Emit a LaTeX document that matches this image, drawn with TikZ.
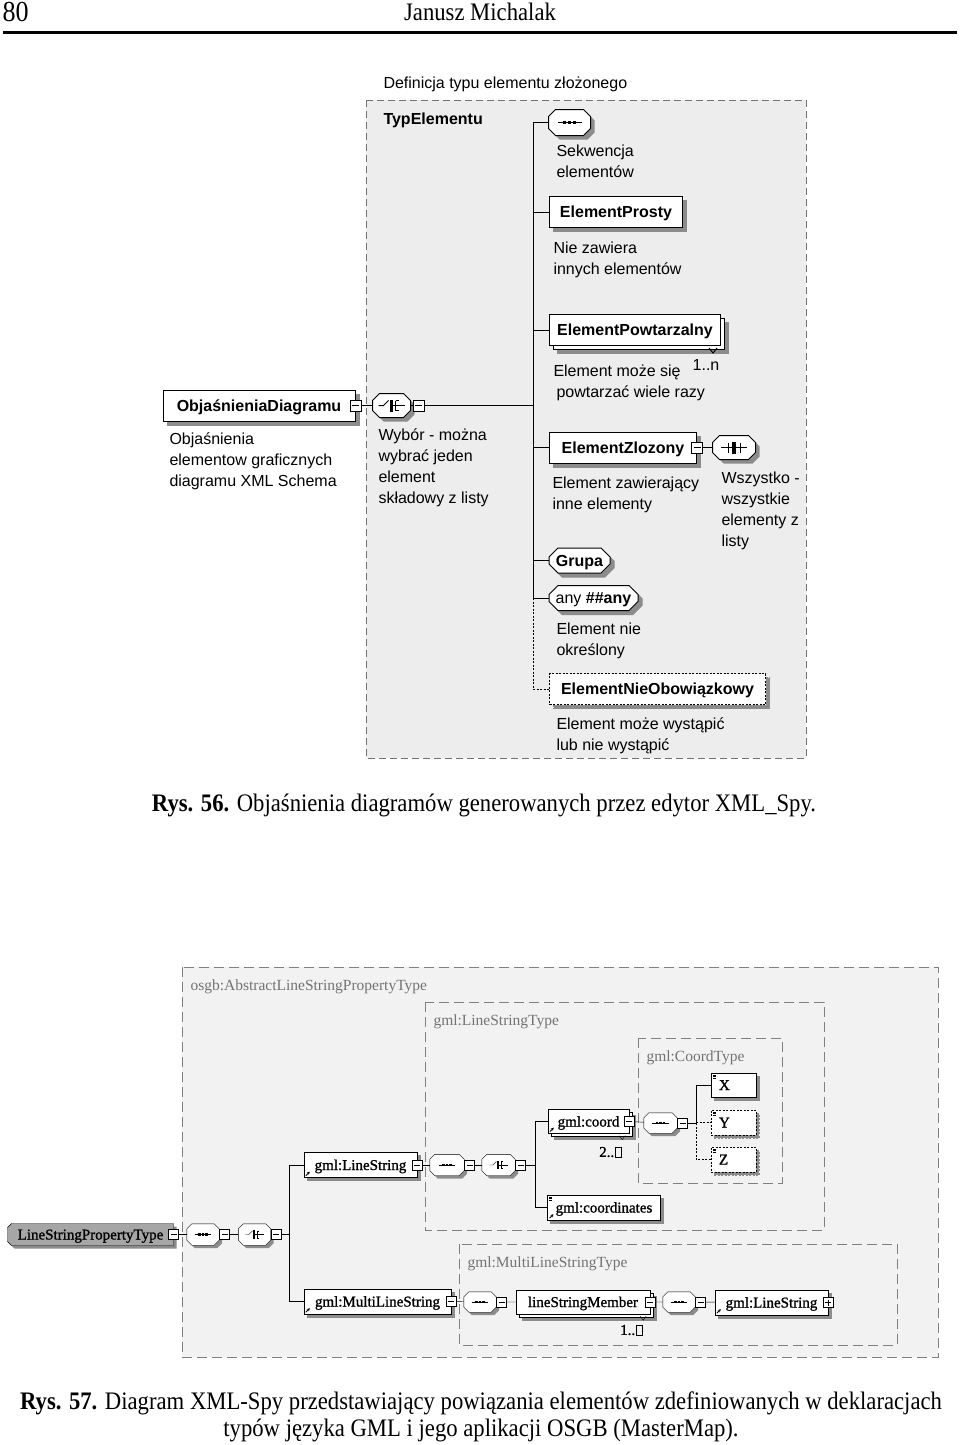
\documentclass[tikz,border=0pt]{standalone}
\usepackage{fontspec}
\usepackage{tikz}
\usetikzlibrary{positioning,shapes.misc,shadows,arrows.meta}
\pgfdeclarelayer{bg}
\pgfsetlayers{bg,main}
\newfontfamily\arialf{Liberation Sans}
\newfontfamily\timesf[FakeStretch=0.9]{Liberation Serif}
\newfontfamily\gmlf{Liberation Serif}
\newfontfamily\gmlb[FakeBold=1.2]{Liberation Serif}
\newcommand{\dsans}{\arialf\fontsize{16}{21}\selectfont}
\newcommand{\dgml}{\gmlb\fontsize{15}{17}\selectfont}
\newcommand{\dcap}{\timesf\fontsize{25.2}{27}\selectfont}
% octagon of a compositor round node #1, chamfer #2, shadow offset #3
\newcommand{\compobox}[3]{%
  \fill[black!45, transform canvas={xshift=#3pt, yshift=-#3pt}]
    ([xshift=#2pt]#1.north west) -- ([xshift=-#2pt]#1.north east) -- ([yshift=-#2pt]#1.north east)
    -- ([yshift=#2pt]#1.south east) -- ([xshift=-#2pt]#1.south east) -- ([xshift=#2pt]#1.south west)
    -- ([yshift=#2pt]#1.south west) -- ([yshift=-#2pt]#1.north west) -- cycle;
  \filldraw[fill=white]
    ([xshift=#2pt]#1.north west) -- ([xshift=-#2pt]#1.north east) -- ([yshift=-#2pt]#1.north east)
    -- ([yshift=#2pt]#1.south east) -- ([xshift=-#2pt]#1.south east) -- ([xshift=#2pt]#1.south west)
    -- ([yshift=#2pt]#1.south west) -- ([yshift=-#2pt]#1.north west) -- cycle;}

\tikzset{
  shad/.style={drop shadow={shadow xshift=4pt,shadow yshift=-4pt,fill=black!45,draw=black!45,opacity=1}},
  gshad/.style={drop shadow={shadow xshift=3pt,shadow yshift=-3pt,fill=black!45,draw=black!45,opacity=1}},
  elbase/.style={draw, fill=white, font=\dsans\bfseries, minimum height=31pt, inner sep=0pt,
    text height=11.5pt, text depth=0pt},
  elbox/.style={elbase, shad},
  elstack/.style={elbase,
    drop shadow={shadow xshift=8pt,shadow yshift=-8pt,fill=black!45,draw=black!45,opacity=1},
    copy shadow={shadow xshift=4pt,shadow yshift=-4pt}},
  compo/.style={minimum width=40pt, minimum height=24pt, inner sep=0pt},
  gcompo/.style={compo, minimum width=32pt, minimum height=21pt},
  grp/.style={chamfered rectangle, chamfered rectangle xsep=4pt, chamfered rectangle ysep=5pt,
    draw, fill=white, font=\dsans\bfseries, minimum height=25pt, inner sep=0pt,
    text height=11.5pt, text depth=0pt, shad},
  mbox/.style={draw, fill=white, minimum size=11pt, inner sep=0pt, line width=0.8pt,
    path picture={\draw ([xshift=2pt]path picture bounding box.west) -- ([xshift=-2pt]path picture bounding box.east);}},
  gmbox/.style={mbox, minimum size=10pt},
  gpbox/.style={gmbox, path picture={
    \draw ([xshift=2pt]path picture bounding box.west) -- ([xshift=-2pt]path picture bounding box.east);
    \draw ([yshift=-2pt]path picture bounding box.north) -- ([yshift=2pt]path picture bounding box.south);}},
  note/.style={font=\dsans, inner sep=0pt, align=left},
  gnote/.style={font=\gmlf\fontsize{15.5}{17}\selectfont, text=black!55, inner sep=0pt, anchor=west},
  gnum/.style={font=\dgml, inner sep=0pt},
  gelbase/.style={draw, fill=white, font=\dgml, minimum height=25pt, inner xsep=8pt, inner ysep=0pt,
    text height=10pt, text depth=0pt, align=left},
  gelbox/.style={gelbase, gshad},
  gelstack/.style={gelbase,
    drop shadow={shadow xshift=6pt,shadow yshift=-6pt,fill=black!45,draw=black!45,opacity=1},
    copy shadow={shadow xshift=3pt,shadow yshift=-3pt}},
  area1/.style={fill=gray!14, draw=black!55, dash pattern=on 7pt off 4pt},
  area2/.style={fill=gray!10, draw=black!50, dash pattern=on 10pt off 5pt},
  area3/.style={draw=black!50, dash pattern=on 10pt off 5pt},
  dotline/.style={dash pattern=on 2pt off 1.5pt},
  seqicon/.pic={\draw (-12,0) -- (12,0);
    \foreach \d in {-5,0,5} \fill (\d-1.5,-1.5) rectangle ++(3,3);},
  choiceicon/.pic={\draw (-13,0) -- (-8,0) -- (-3,-5);
    \fill (-2,-6) rectangle (1,6);
    \draw (4,-5) -- (4,5) (4,-5) -- (7,-5) (4,5) -- (7,5) (1,0) -- (13,0);},
  allicon/.pic={\draw (-13,0) -- (13,0) (-6,-5) -- (-6,5) (6,-5) -- (6,5);
    \fill (-2,-6) rectangle (2,6);},
  refmark/.pic={\draw[line width=0.8pt,-{Stealth[length=3pt,width=3pt]}] (2,-2) -- (6,-6);},
  simplemark/.pic={\foreach \k in {2,3.5,5} \draw[line width=0.6pt] (2,\k) -- (5,\k);},
}

\begin{document}
\begin{tikzpicture}[x=1pt,y=-1pt,line width=1pt]
\useasboundingbox (0,0) rectangle (960,1445);
% page head
\node[font=\timesf\fontsize{29}{30}\selectfont, anchor=west, inner sep=0pt] (pnum) at (2,12) {80};
\node[font=\dcap, inner sep=0pt] (author) at (480,12) {Janusz Michalak};
\draw[line width=3pt] (3,33) -- (957,33);

% Rys. 56: legend of the symbols
\draw[area1] (366,100) rectangle (806,758);
\node[note, anchor=west] (deftitle) at (383,84) {Definicja typu elementu złożonego};
\node[note, anchor=west, font=\dsans\bfseries] (typel) at (383,120) {TypElementu};
\coordinate (tr1) at (533,0);
\node[compo, minimum width=41pt, minimum height=25pt] (seq1) at (569.5,122.5) {};
\compobox{seq1}{7}{4}
\pic at (seq1) {seqicon};
\node[note, anchor=north west] (seq1txt) at (556,144) {Sekwencja\\elementów};
\node[elbox, anchor=west, minimum width=133pt] (prosty) at (549,212) {ElementProsty};
\node[note, anchor=north west] (prostytxt) at (553,241) {Nie zawiera\\innych elementów};
\node[elstack, anchor=west, minimum width=171pt] (powt) at (549,330) {ElementPowtarzalny};
\draw ([xshift=-8pt]powt.south east) ++(-4,2) -- ++(4,5) -- ++(4,-5);
\node[note] (powtn) at (706,365) {1..n};
\node[note, anchor=north west] (powttxt) at (553,364) {Element może się\\\hspace*{3pt}powtarzać wiele razy};
\node[elbox, minimum width=192pt] (objd) at (259,405.5) {ObjaśnieniaDiagramu};
\node[mbox] (objdm) at (objd.east) {};
\node[compo, minimum width=37pt, minimum height=23pt] (ch) at (391.5,405.5) {};
\compobox{ch}{7}{4}
\pic at (ch) {choiceicon};
\node[mbox, right=2pt of ch] (chm) {};
\draw (objdm) -- (ch) (ch) -- (chm) (chm.east) -- (chm.east -| tr1);
\node[note, anchor=north west] (objdtxt) at (169,432) {Objaśnienia\\elementow graficznych\\diagramu XML Schema};
\node[note, anchor=north west] (chtxt) at (378,428) {Wybór - można\\wybrać jeden\\element\\składowy z listy};
\node[elbox, anchor=west, minimum width=147pt] (zloz) at (549,447.5) {ElementZlozony};
\node[mbox] (zlozm) at (zloz.east) {};
\node[compo, minimum width=42pt, minimum height=23pt] (all) at (734,447.5) {};
\compobox{all}{7}{4}
\pic at (all) {allicon};
\draw (zlozm) -- (all);
\node[note, anchor=north west] (zloztxt) at (552,476) {Element zawierający\\inne elementy};
\node[note, anchor=north west] (alltxt) at (721,471) {Wszystko -\\wszystkie\\elementy z\\listy};
\node[grp, minimum width=61pt] (grupa) at (579.5,560.5) {Grupa};
\node[grp, minimum width=89pt, font=\dsans] (anyel) at (593.5,598) {any \textbf{\#\#any}};
\node[note, anchor=north west] (anytxt) at (556,622) {Element nie\\określony};
\node[elbox, dotline, anchor=west, minimum width=216pt] (nieob) at (549,689) {ElementNieObowiązkowy};
\node[note, anchor=north west] (nieobtxt) at (556,717) {Element może wystąpić\\lub nie wystąpić};
% trunk of the sequence
\draw (seq1.west) -- (seq1.west -| tr1) -- (anyel.west -| tr1) -- (anyel.west);
\foreach \n in {prosty,powt,zloz,grupa}
  \draw (\n.west) -- (\n.west -| tr1);
\draw[dotline] (anyel.west -| tr1) -- (nieob.west -| tr1) -- (nieob.west);
\node[font=\dcap] (cap1) at (484,805) {\textbf{Rys. 56.} Objaśnienia diagramów generowanych przez edytor XML\_Spy.};

% Rys. 57: LineStringPropertyType
\draw[area2] (182,967) rectangle (938,1357);
\draw[area3] (425,1002) rectangle (824,1230);
\draw[area3] (638,1038) rectangle (782,1183);
\draw[area3] (459,1244) rectangle (897,1345);
\node[gnote] (lbl1) at (190,987) {osgb:AbstractLineStringPropertyType};
\node[gnote] (lbl2) at (433,1022) {gml:LineStringType};
\node[gnote] (lbl3) at (646,1058) {gml:CoordType};
\node[gnote] (lbl4) at (467,1264) {gml:MultiLineStringType};

\node[font=\dgml, inner sep=0pt, text height=10pt, text depth=0pt,
  minimum width=165pt, minimum height=21pt] (lspt) at (90.5,1234.5) {LineStringPropertyType};
\begin{pgfonlayer}{bg}
\fill[black!45, transform canvas={xshift=3pt, yshift=-3pt}] ([xshift=4pt]lspt.north west) -- (lspt.north east)
  -- (lspt.south east) -- ([xshift=4pt]lspt.south west) -- ([yshift=4pt]lspt.south west) -- ([yshift=-4pt]lspt.north west) -- cycle;
\filldraw[fill=black!35] ([xshift=4pt]lspt.north west) -- (lspt.north east)
  -- (lspt.south east) -- ([xshift=4pt]lspt.south west) -- ([yshift=4pt]lspt.south west) -- ([yshift=-4pt]lspt.north west) -- cycle;
\end{pgfonlayer}
\node[gmbox] (lsptm) at (lspt.east) {};
\node[gcompo] (s21) at (203,1234.5) {};
\compobox{s21}{5}{3}
\pic[scale=0.7] at (s21) {seqicon};
\node[gmbox, right=0pt of s21] (s21m) {};
\node[gcompo] (c21) at (254.5,1234.5) {};
\compobox{c21}{5}{3}
\pic[scale=0.7] at (c21) {choiceicon};
\node[gmbox, right=0pt of c21] (c21m) {};
\coordinate (tr21) at (289,0);
\draw (lsptm) -- (s21) (s21m) -- (c21) (c21m.east) -- (c21m.east -| tr21);

\node[gelbox, minimum width=113pt] (gls1) at (360.5,1165) {gml:LineString};
\node[gmbox] (gls1m) at (gls1.east) {};
\pic at (gls1.south west) {refmark};
\node[gcompo, minimum width=34pt] (s22) at (447,1165) {};
\compobox{s22}{5}{3}
\pic[scale=0.7] at (s22) {seqicon};
\node[gmbox, right=0pt of s22] (s22m) {};
\node[gcompo, minimum width=33pt] (c22) at (498.5,1165) {};
\compobox{c22}{5}{3}
\pic[scale=0.7] at (c22) {choiceicon};
\node[gmbox, right=0pt of c22] (c22m) {};
\coordinate (tr22) at (535,0);
\draw (gls1m) -- (s22) (s22m) -- (c22) (c22m.east) -- (c22m.east -| tr22);

\node[gelstack, minimum width=81pt, minimum height=24pt] (gcrd) at (588.5,1121.5) {gml:coord};
\node[gmbox] (gcrdm) at (gcrd.east) {};
\pic at (gcrd.south west) {refmark};
\draw ([xshift=-7pt]gcrd.south east) ++(-3,2) -- ++(3,4) -- ++(3,-4);
\node[gnum, anchor=west] (gcrdn) at (599,1152) {2..};
\draw[line width=0.8pt] ([xshift=1pt]gcrdn.east) ++(0,-5) rectangle ++(6,10);
\node[gcompo, minimum width=33pt, minimum height=20pt] (s23) at (660.5,1123) {};
\compobox{s23}{5}{3}
\pic[scale=0.7] at (s23) {seqicon};
\node[gmbox, right=0pt of s23] (s23m) {};
\draw (gcrdm) -- (s23);
\coordinate (tr23) at (696,0);
\node[gelbox, text width=29pt, minimum height=24pt] (xel) at (733.5,1085) {X};
\node[gelbox, dotline, text width=29pt, minimum height=25pt] (yel) at (733.5,1122.5) {Y};
\node[gelbox, dotline, text width=29pt, minimum height=25pt] (zel) at (733.5,1159.5) {Z};
\foreach \n in {xel,yel,zel} \pic at (\n.north west) {simplemark};
\draw (s23m.east) -- (s23m.east -| tr23) -- (xel.west -| tr23) -- (xel.west);
\draw[dotline] (yel.west -| tr23) -- (yel.west) (s23m.east -| tr23) -- (zel.west -| tr23) -- (zel.west);
\node[gelbox, minimum width=112pt] (gcrds) at (604,1207.5) {gml:coordinates};
\pic at (gcrds.south west) {refmark};
\pic at (gcrds.north west) {simplemark};
\draw (gcrd.west) -- (gcrd.west -| tr22) -- (gcrds.west -| tr22) -- (gcrds.west);

\node[gelbox, minimum width=147pt] (gmls) at (377.5,1301.5) {gml:MultiLineString};
\node[gmbox] (gmlsm) at (gmls.east) {};
\pic at (gmls.south west) {refmark};
\draw (gls1.west) -- (gls1.west -| tr21) -- (gmls.west -| tr21) -- (gmls.west);
\node[gcompo, minimum height=20pt] (s24) at (480,1302) {};
\compobox{s24}{5}{3}
\pic[scale=0.7] at (s24) {seqicon};
\node[gmbox, right=0pt of s24] (s24m) {};
\node[gelstack, minimum width=134pt, minimum height=24pt] (lsm) at (583,1302) {lineStringMember};
\node[gmbox] (lsmm) at (lsm.east) {};
\draw ([xshift=-7pt]lsm.south east) ++(-3,2) -- ++(3,4) -- ++(3,-4);
\node[gnum, anchor=west] (lsmn) at (620,1330) {1..};
\draw[line width=0.8pt] ([xshift=1pt]lsmn.east) ++(0,-5) rectangle ++(6,10);
\node[gcompo, minimum height=20pt] (s25) at (679,1302) {};
\compobox{s25}{5}{3}
\pic[scale=0.7] at (s25) {seqicon};
\node[gmbox, right=0pt of s25] (s25m) {};
\node[gelbox, minimum width=113pt] (gls2) at (771.5,1302.5) {gml:LineString};
\node[gpbox] (gls2m) at (gls2.east) {};
\pic at (gls2.south west) {refmark};
\draw (gmlsm) -- (s24) (s24m) -- (lsm) (lsmm) -- (s25) (s25m) -- (gls2);

\node[font=\dcap, align=center] (cap2) at (481,1416.5) {\textbf{Rys. 57.} Diagram XML-Spy przedstawiający powiązania elementów zdefiniowanych w deklaracjach\\typów języka GML i jego aplikacji OSGB (MasterMap).};
\end{tikzpicture}
\end{document}
